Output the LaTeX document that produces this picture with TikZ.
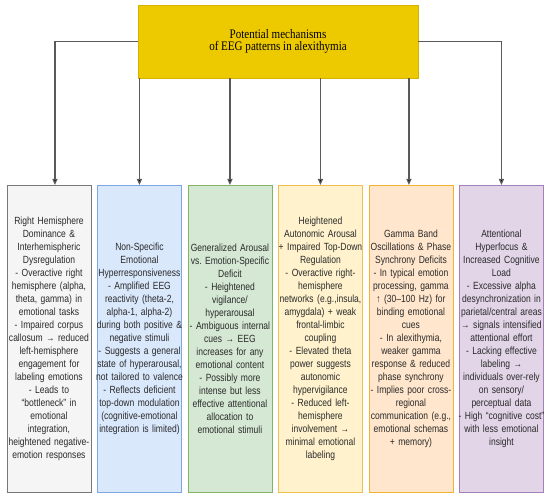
\documentclass[tikz,border=0pt]{standalone}
\usepackage{fontspec}
\usetikzlibrary{arrows.meta}
\newfontfamily\boxfont[FakeStretch=0.82]{Liberation Sans}
\newfontfamily\titlefont[FakeStretch=0.85]{Liberation Serif}
\definecolor{ytop}{HTML}{EDC900}
\definecolor{ytopd}{HTML}{D4B200}
\definecolor{gfill}{HTML}{F5F5F5}\definecolor{gdraw}{HTML}{777777}
\definecolor{bfill}{HTML}{DAE8FC}\definecolor{bdraw}{HTML}{7EA6E0}
\definecolor{grfill}{HTML}{D5E8D4}\definecolor{grdraw}{HTML}{82B366}
\definecolor{yfill}{HTML}{FFF2CC}\definecolor{ydraw}{HTML}{F0C050}
\definecolor{ofill}{HTML}{FFE6CC}\definecolor{odraw}{HTML}{F5B130}
\definecolor{pfill}{HTML}{E1D5E7}\definecolor{pdraw}{HTML}{A680B8}
\definecolor{linec}{HTML}{5A5A5A}
\definecolor{txt}{HTML}{2A2A2A}
\frenchspacing
\begin{document}
\begin{tikzpicture}[x=1pt,y=1pt,
  mbox/.style={draw, line width=0.9pt, anchor=north west, minimum width=84pt,
    minimum height=307pt, text width=110pt, inner xsep=-13pt, align=center,
    text=txt, font=\boxfont\fontsize{10.4}{13}\selectfont\frenchspacing},
  conn/.style={draw=linec, line width=1.2pt, -{Triangle[length=6pt,width=5pt,fill=black]}}]
\useasboundingbox[fill=white] (0,0) rectangle (550,-497);

\node[draw=ytopd, fill=ytop, line width=0.6pt, minimum width=280pt, minimum height=73pt,
  align=center, text=black, font=\titlefont\fontsize{13}{12.5}\selectfont]
  (top) at (278,-41.5) {Potential mechanisms\\of EEG patterns in alexithymia};

\node[mbox, fill=gfill, draw=gdraw] (b1) at (6.5,-185) {Right Hemisphere\\Dominance \&\\Interhemispheric\\Dysregulation\\- Overactive right\\hemisphere (alpha,\\theta, gamma) in\\emotional tasks\\- Impaired corpus\\callosum → reduced\\left-hemisphere\\engagement for\\labeling emotions\\- Leads to\\“bottleneck” in\\emotional\\integration,\\heightened negative-\\emotion responses};

\node[mbox, fill=bfill, draw=bdraw] (b2) at (97,-185) {Non-Specific\\Emotional\\Hyperresponsiveness\\- Amplified EEG\\reactivity (theta-2,\\alpha-1, alpha-2)\\during both positive \&\\negative stimuli\\- Suggests a general\\state of hyperarousal,\\not tailored to valence\\- Reflects deficient\\top-down modulation\\(cognitive-emotional\\integration is limited)};

\node[mbox, fill=grfill, draw=grdraw] (b3) at (187.5,-185) {Generalized Arousal\\vs. Emotion-Specific\\Deficit\\- Heightened\\vigilance/\\hyperarousal\\- Ambiguous internal\\cues → EEG\\increases for any\\emotional content\\- Possibly more\\intense but less\\effective attentional\\allocation to\\emotional stimuli};

\node[mbox, fill=yfill, draw=ydraw] (b4) at (278,-185) {Heightened\\Autonomic Arousal\\+ Impaired Top-Down\\Regulation\\- Overactive right-\\hemisphere\\networks (e.g.,insula,\\amygdala) + weak\\frontal-limbic\\coupling\\- Elevated theta\\power suggests\\autonomic\\hypervigilance\\- Reduced left-\\hemisphere\\involvement →\\minimal emotional\\labeling};

\node[mbox, fill=ofill, draw=odraw] (b5) at (368.5,-185) {Gamma Band\\Oscillations \& Phase\\Synchrony Deficits\\- In typical emotion\\processing, gamma\\↑ (30–100 Hz) for\\binding emotional\\cues\\- In alexithymia,\\weaker gamma\\response \& reduced\\phase synchrony\\- Implies poor cross-\\regional\\communication (e.g.,\\emotional schemas\\+ memory)};

\node[mbox, fill=pfill, draw=pdraw] (b6) at (459,-185) {Attentional\\Hyperfocus \&\\Increased Cognitive\\Load\\- Excessive alpha\\desynchronization in\\parietal/central areas\\→ signals intensified\\attentional effort\\- Lacking effective\\labeling →\\individuals over-rely\\on sensory/\\perceptual data\\- High “cognitive cost”\\with less emotional\\insight};

\coordinate (t1) at ([xshift=6pt]b1.north);
\coordinate (t5) at ([xshift=-2pt]b5.north);
\draw[conn] (top.west) -| (t1);
\draw[conn] (top.east) -| (b6.north);
\draw[conn] (top.south -| b2.north) -- (b2.north);
\draw[conn] (top.south -| b3.north) -- (b3.north);
\draw[conn] (top.south -| b4.north) -- (b4.north);
\draw[conn] (top.south -| t5) -- (t5);
\end{tikzpicture}
\end{document}
